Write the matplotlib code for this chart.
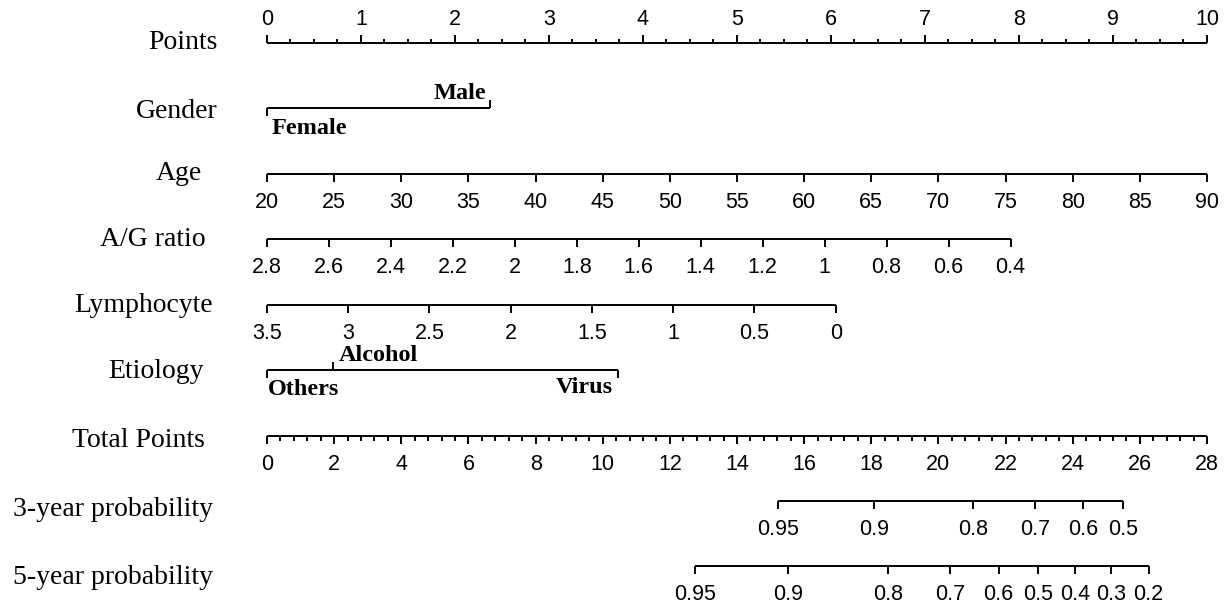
import numpy as np
import matplotlib
matplotlib.use("Agg")
import matplotlib.pyplot as plt

# ---------------- data ----------------
row_names = ["Points", "Gender", "Age", "A/G ratio", "Lymphocyte", "Etiology",
             "Total Points", "3-year probability", "5-year probability"]

points_ticks = list(range(0, 11))

gender_levels = ["Female", "Male"]
gender_points = [0.0, 2.37]

age_ticks = list(range(20, 95, 5))
age_anchor_vals = [20, 90]
age_anchor_pts = [0.0, 10.0]

ag_ticks = [2.8, 2.6, 2.4, 2.2, 2.0, 1.8, 1.6, 1.4, 1.2, 1.0, 0.8, 0.6, 0.4]
ag_tick_labels = ["2.8", "2.6", "2.4", "2.2", "2", "1.8", "1.6", "1.4", "1.2", "1", "0.8", "0.6", "0.4"]
ag_anchor_vals = [2.8, 0.4]
ag_anchor_pts = [0.0, 7.91]

lym_ticks = [3.5, 3.0, 2.5, 2.0, 1.5, 1.0, 0.5, 0.0]
lym_tick_labels = ["3.5", "3", "2.5", "2", "1.5", "1", "0.5", "0"]
lym_anchor_vals = [3.5, 0.0]
lym_anchor_pts = [0.0, 6.05]

etio_levels = ["Others", "Alcohol", "Virus"]
etio_points = [0.0, 0.70, 3.73]

total_ticks = list(range(0, 30, 2))
total_max = 28
points_max = 10

prob3_labels = ["0.95", "0.9", "0.8", "0.7", "0.6", "0.5"]
prob3_total = [15.22, 18.09, 21.04, 22.87, 24.30, 25.50]

prob5_labels = ["0.95", "0.9", "0.8", "0.7", "0.6", "0.5", "0.4", "0.3", "0.2"]
prob5_total = [12.74, 15.53, 18.51, 20.35, 21.79, 22.96, 24.06, 25.14, 26.26]

# ---------------- layout ----------------
W, H = 1231, 608
X0, X1 = 267, 1207            # pixel span of 0..10 points
row_y = [43, 108, 174, 239, 305, 370, 436, 501, 566]
label_base = [49, 118, 180, 246, 312, 378, 447, 516, 584]
label_right = [218, 218, 202, 206, 213, 204, 205, 213, 213]
LW = 1.4
MAJ = 8
MIN = 4.5

serif = "Liberation Serif"
sans = "Liberation Sans"
lab_fs = 20
tick_fs = 15.5
cat_fs = 17.5

fig = plt.figure(figsize=(W / 100, H / 100), dpi=100)
ax = fig.add_axes([0, 0, 1, 1])
ppu = (X1 - X0) / points_max
ax.set_xlim(-X0 / ppu, (W - X0) / ppu)
ax.set_ylim(H, 0)
ax.axis("off")

def px(x):
    return (x - X0) / ppu

def hline(x0, x1, y):
    ax.plot([x0, x1], [y, y], color="black", lw=LW, solid_capstyle="butt")

def tick(x, y, length):
    ax.plot([x, x], [y, y + length], color="black", lw=LW, solid_capstyle="butt")

def tick_axis(xs, labels, y, up=False, minor=None):
    hline(min(xs), max(xs), y)
    sgn = -1 if up else 1
    for x, lab in zip(xs, labels):
        tick(x, y, sgn * MAJ)
        if up:
            ax.text(x, y - 18, lab, ha="center", va="baseline", fontsize=tick_fs, family=sans)
        else:
            ax.text(x, y + 18, lab, ha="center", va="top", fontsize=tick_fs, family=sans)
    if minor is not None:
        for x in minor:
            tick(x, y, sgn * MIN)

# row labels
for name, yb, xr in zip(row_names, label_base, label_right):
    ax.text(px(xr), yb, name, ha="right", va="baseline",
            fontsize=lab_fs, family=serif)

# Points
pt_minor = [v for v in np.arange(0, points_max + 1e-9, 0.25) if abs(v - round(v)) > 1e-6]
tick_axis(points_ticks, [str(v) for v in points_ticks], row_y[0], up=True, minor=pt_minor)

# Gender
yg = row_y[1]
hline(gender_points[0], gender_points[1], yg)
tick(gender_points[0], yg, MAJ)
tick(gender_points[1], yg, -MAJ)
ax.text(gender_points[0] + 5 / ppu, yg + 26, gender_levels[0], ha="left", va="baseline",
        fontsize=cat_fs, family=serif, fontweight="bold")
ax.text(gender_points[1] - 4 / ppu, yg - 9, gender_levels[1], ha="right", va="baseline",
        fontsize=cat_fs, family=serif, fontweight="bold")

# Age
age_x = np.interp(age_ticks, age_anchor_vals, age_anchor_pts)
tick_axis(age_x, [str(a) for a in age_ticks], row_y[2])

# A/G ratio
ag_x = np.interp(ag_ticks, ag_anchor_vals[::-1], ag_anchor_pts[::-1])
tick_axis(ag_x, ag_tick_labels, row_y[3])

# Lymphocyte
lym_x = np.interp(lym_ticks, lym_anchor_vals[::-1], lym_anchor_pts[::-1])
tick_axis(lym_x, lym_tick_labels, row_y[4])

# Etiology
ye = row_y[5]
hline(min(etio_points), max(etio_points), ye)
tick(etio_points[0], ye, MAJ)
tick(etio_points[1], ye, -MAJ)
tick(etio_points[2], ye, MAJ)
ax.text(etio_points[0] + 1 / ppu, ye + 25, etio_levels[0], ha="left", va="baseline",
        fontsize=cat_fs, family=serif, fontweight="bold")
ax.text(etio_points[1] + 6 / ppu, ye - 9, etio_levels[1], ha="left", va="baseline",
        fontsize=cat_fs, family=serif, fontweight="bold")
ax.text(etio_points[2] - 5 / ppu, ye + 23, etio_levels[2], ha="right", va="baseline",
        fontsize=cat_fs, family=serif, fontweight="bold")

# Total points
scale = points_max / total_max
tot_x = [t * scale for t in total_ticks]
tot_minor = [v * scale for v in np.arange(0, total_max + 1e-9, 0.4)
             if abs(v / 2 - round(v / 2)) > 1e-6]
tick_axis(tot_x, [str(t) for t in total_ticks], row_y[6], minor=tot_minor)

# probabilities
tick_axis([t * scale for t in prob3_total], prob3_labels, row_y[7])
tick_axis([t * scale for t in prob5_total], prob5_labels, row_y[8])

fig.savefig("out.png", dpi=100, facecolor="white")
